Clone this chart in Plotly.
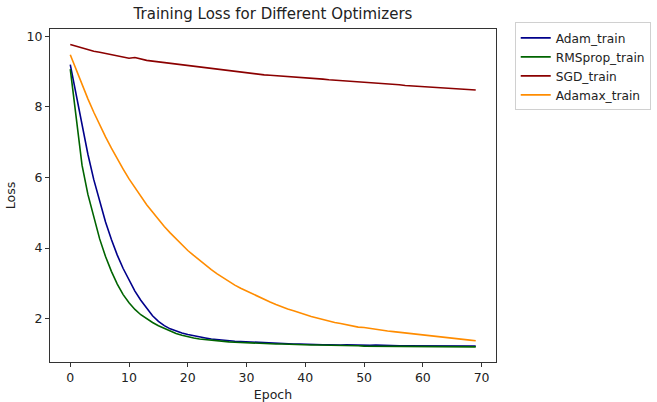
import plotly.graph_objects as go

epochs = list(range(70))

adam_train = [9.20, 8.32, 7.46, 6.66, 5.94, 5.30, 4.74, 4.24, 3.80, 3.42,
              3.08, 2.78, 2.52, 2.29, 2.08, 1.92, 1.80, 1.71, 1.64, 1.59,
              1.55, 1.51, 1.48, 1.45, 1.42, 1.40, 1.38, 1.37, 1.36, 1.35,
              1.34, 1.33, 1.33, 1.32, 1.31, 1.30, 1.30, 1.29, 1.28, 1.28,
              1.27, 1.27, 1.27, 1.26, 1.26, 1.25, 1.25, 1.26, 1.25, 1.24,
              1.24, 1.24, 1.25, 1.24, 1.23, 1.24, 1.23, 1.23, 1.23, 1.22,
              1.23, 1.22, 1.23, 1.22, 1.22, 1.22, 1.22, 1.21, 1.22, 1.22]

rmsprop_train = [9.07, 7.65, 6.35, 5.52, 4.86, 4.26, 3.76, 3.34, 2.98, 2.68,
                 2.45, 2.26, 2.11, 1.99, 1.89, 1.80, 1.72, 1.65, 1.58, 1.53,
                 1.48, 1.45, 1.42, 1.40, 1.38, 1.37, 1.35, 1.34, 1.33, 1.32,
                 1.31, 1.30, 1.30, 1.29, 1.29, 1.28, 1.28, 1.27, 1.27, 1.26,
                 1.26, 1.25, 1.25, 1.25, 1.24, 1.24, 1.24, 1.23, 1.23, 1.23,
                 1.22, 1.22, 1.22, 1.22, 1.21, 1.22, 1.21, 1.21, 1.21, 1.21,
                 1.20, 1.21, 1.20, 1.20, 1.20, 1.20, 1.20, 1.20, 1.20, 1.20]

sgd_train = [9.77, 9.72, 9.67, 9.63, 9.58, 9.55, 9.52, 9.49, 9.46, 9.42,
             9.38, 9.40, 9.35, 9.32, 9.30, 9.28, 9.26, 9.23, 9.21, 9.19,
             9.16, 9.14, 9.12, 9.10, 9.08, 9.06, 9.04, 9.02, 9.00, 8.99,
             8.97, 8.95, 8.92, 8.91, 8.90, 8.89, 8.88, 8.86, 8.85, 8.84,
             8.83, 8.81, 8.80, 8.79, 8.77, 8.76, 8.75, 8.74, 8.72, 8.71,
             8.70, 8.69, 8.68, 8.66, 8.65, 8.64, 8.63, 8.61, 8.60, 8.59,
             8.58, 8.57, 8.56, 8.55, 8.53, 8.52, 8.51, 8.50, 8.49, 8.48]

adamax_train = [9.48, 9.05, 8.63, 8.23, 7.85, 7.49, 7.15, 6.83, 6.52, 6.24,
                5.96, 5.71, 5.46, 5.23, 5.02, 4.81, 4.61, 4.43, 4.26, 4.09,
                3.93, 3.79, 3.65, 3.52, 3.39, 3.27, 3.16, 3.05, 2.95, 2.86,
                2.78, 2.69, 2.61, 2.54, 2.47, 2.40, 2.33, 2.27, 2.22, 2.16,
                2.11, 2.06, 2.02, 1.97, 1.93, 1.89, 1.86, 1.82, 1.79, 1.76,
                1.75, 1.72, 1.70, 1.67, 1.65, 1.63, 1.61, 1.59, 1.57, 1.55,
                1.53, 1.51, 1.50, 1.48, 1.46, 1.45, 1.43, 1.41, 1.39, 1.37]

series = [
    ("Adam_train", adam_train, "#00008B"),
    ("RMSprop_train", rmsprop_train, "#006400"),
    ("SGD_train", sgd_train, "#8B0000"),
    ("Adamax_train", adamax_train, "#FF8C00"),
]

x_ticks = [0, 10, 20, 30, 40, 50, 60, 70]
y_ticks = [2, 4, 6, 8, 10]

fig = go.Figure()
for name, vals, color in series:
    fig.add_trace(go.Scatter(x=epochs, y=vals, mode="lines", name=name,
                             line=dict(color=color, width=1.6)))

font_family = "DejaVu Sans"
fig.update_layout(
    width=657, height=402,
    margin=dict(l=50, r=161, t=29, b=40, autoexpand=False),
    paper_bgcolor="white", plot_bgcolor="white",
    font=dict(family=font_family, size=12.5, color="#222"),
    title=dict(text="Training Loss for Different Optimizers",
               x=(50 + 223) / 657, xanchor="center", y=1 - 14 / 402, yanchor="middle",
               font=dict(size=15, color="#222")),
    showlegend=True,
    legend=dict(x=1.042, y=1.02, xanchor="left", yanchor="top",
                bordercolor="#d0d0d0", borderwidth=1, bgcolor="white",
                font=dict(size=12.2), tracegroupgap=0, itemwidth=30),
    xaxis=dict(range=[-3.45, 72.45], tickvals=x_ticks, showgrid=False, zeroline=False,
               showline=True, linecolor="#333", linewidth=1, mirror=True,
               ticks="outside", ticklen=4, tickcolor="#333",
               title=dict(text="Epoch", standoff=7, font=dict(size=12.5))),
    yaxis=dict(range=[0.77, 10.21], tickvals=y_ticks, showgrid=False, zeroline=False,
               showline=True, linecolor="#333", linewidth=1, mirror=True,
               ticks="outside", ticklen=4, tickcolor="#333",
               title=dict(text="Loss", standoff=8, font=dict(size=12.5))),
)

fig.write_html("out.html")
